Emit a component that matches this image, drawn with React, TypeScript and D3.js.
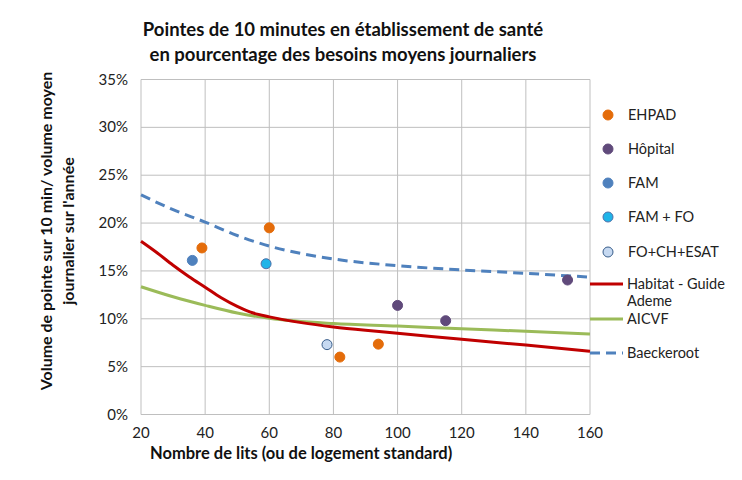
import { useEffect, useRef } from 'react';
import * as d3 from 'd3';

// scatter series: [lits, %]
const ehpad: [number, number][] = [[39, 17.4], [60, 19.5], [82, 6.0], [94, 7.35]];
const hopital: [number, number][] = [[100, 11.4], [115, 9.8], [153, 14.05]];
const fam: [number, number][] = [[36, 16.1]];
const famFo: [number, number][] = [[59, 15.75]];
const foChEsat: [number, number][] = [[78, 7.3]];

// curves
const habitatX = [20, 25, 30, 35, 40, 45, 50, 55, 60, 70, 80, 90, 100, 120, 140, 160];
const habitatY = [18.1, 16.9, 15.6, 14.4, 13.3, 12.2, 11.3, 10.6, 10.2, 9.6, 9.15, 8.8, 8.5, 7.85, 7.25, 6.6];
const aicvfX = [20, 30, 40, 50, 60, 80, 100, 120, 140, 160];
const aicvfY = [13.35, 12.3, 11.4, 10.6, 10.05, 9.5, 9.25, 8.95, 8.7, 8.4];
const baeckX = [20, 30, 40, 50, 60, 80, 100, 120, 140, 160];
const baeckY = [22.95, 21.4, 20.1, 18.7, 17.6, 16.25, 15.55, 15.1, 14.75, 14.35];

const xTicks = [20, 40, 60, 80, 100, 120, 140, 160];
const yTicks = [0, 5, 10, 15, 20, 25, 30, 35];

const FONT = 'Lato, "Open Sans", sans-serif';

const App = () => {
  const svgRef = useRef<SVGSVGElement>(null);

  useEffect(() => {
    const svg = d3.select(svgRef.current);
    svg.selectAll('*').remove();

    const x = d3.scaleLinear().domain([20, 160]).range([141, 590]);
    const y = d3.scaleLinear().domain([0, 35]).range([414.5, 79.5]);

    svg.append('rect').attr('width', 742).attr('height', 480).attr('fill', '#fff');

    // grid
    const grid = svg.append('g').attr('stroke', '#BFBFBF').attr('stroke-width', 1);
    xTicks.forEach(t => {
      grid.append('line').attr('x1', x(t)).attr('x2', x(t)).attr('y1', y(0)).attr('y2', y(35));
    });
    yTicks.forEach(t => {
      grid.append('line').attr('x1', x(20)).attr('x2', x(160)).attr('y1', y(t)).attr('y2', y(t));
    });

    // tick labels
    svg.append('g').selectAll('text').data(xTicks).enter().append('text')
      .attr('x', d => x(d)).attr('y', 438)
      .attr('text-anchor', 'middle')
      .style('font-family', FONT).style('font-size', '15px').style('fill', '#222')
      .text(d => d);
    svg.append('g').selectAll('text').data(yTicks).enter().append('text')
      .attr('x', 128).attr('y', d => y(d) + 5)
      .attr('text-anchor', 'end')
      .style('font-family', FONT).style('font-size', '15px').style('fill', '#222')
      .text(d => d + '%');

    // curves
    const line = d3.line<[number, number]>()
      .x(d => x(d[0])).y(d => y(d[1]))
      .curve(d3.curveMonotoneX);
    const zip = (xs: number[], ys: number[]) => xs.map((v, i) => [v, ys[i]] as [number, number]);

    svg.append('path').datum(zip(aicvfX, aicvfY))
      .attr('d', line).attr('fill', 'none').attr('stroke', '#9BBB59').attr('stroke-width', 3);
    svg.append('path').datum(zip(habitatX, habitatY))
      .attr('d', line).attr('fill', 'none').attr('stroke', '#C00000').attr('stroke-width', 3);
    svg.append('path').datum(zip(baeckX, baeckY))
      .attr('d', line).attr('fill', 'none').attr('stroke', '#4F81BD').attr('stroke-width', 3)
      .attr('stroke-dasharray', '10 6');

    // points
    const series = [
      { data: ehpad, fill: '#E46C0A', stroke: '#E46C0A', label: 'EHPAD' },
      { data: hopital, fill: '#604A7B', stroke: '#604A7B', label: 'Hôpital' },
      { data: fam, fill: '#4F81BD', stroke: '#4F81BD', label: 'FAM' },
      { data: famFo, fill: '#1FB4E8', stroke: '#4F6FA8', label: 'FAM + FO' },
      { data: foChEsat, fill: '#C6D9F1', stroke: '#385D8A', label: 'FO+CH+ESAT' },
    ];
    series.forEach(s => {
      svg.append('g').selectAll('circle').data(s.data).enter().append('circle')
        .attr('cx', d => x(d[0])).attr('cy', d => y(d[1])).attr('r', 5)
        .attr('fill', s.fill).attr('stroke', s.stroke).attr('stroke-width', 1);
    });

    // legend
    const lg = svg.append('g').style('font-family', FONT).style('font-size', '14.5px').style('fill', '#222');
    const legendY = [115, 149, 183, 217, 252];
    series.forEach((s, i) => {
      lg.append('circle').attr('cx', 608).attr('cy', legendY[i]).attr('r', 5)
        .attr('fill', s.fill).attr('stroke', s.stroke).attr('stroke-width', 1);
      lg.append('text').attr('x', 628).attr('y', legendY[i] + 5).text(s.label);
    });
    const lines = [
      { y: 284, color: '#C00000', dash: null, labels: ['Habitat - Guide', 'Ademe'] },
      { y: 319, color: '#9BBB59', dash: null, labels: ['AICVF'] },
      { y: 353, color: '#4F81BD', dash: '10 6', labels: ['Baeckeroot'] },
    ];
    lines.forEach(l => {
      lg.append('line').attr('x1', 590).attr('x2', 623).attr('y1', l.y).attr('y2', l.y)
        .attr('stroke', l.color).attr('stroke-width', 3)
        .attr('stroke-dasharray', l.dash);
      l.labels.forEach((t, j) => {
        lg.append('text').attr('x', 627).attr('y', l.y + 5 + j * 16.5).text(t);
      });
    });

    // titles
    const title = svg.append('g').style('font-family', FONT).style('font-weight', 'bold')
      .style('font-size', '18.5px').style('fill', '#111').attr('text-anchor', 'middle');
    title.append('text').attr('x', 343).attr('y', 36).text('Pointes de 10 minutes en établissement  de santé');
    title.append('text').attr('x', 343).attr('y', 61).text('en pourcentage des besoins moyens journaliers');

    svg.append('text').attr('x', 150).attr('y', 459)
      .style('font-family', FONT).style('font-weight', 'bold').style('font-size', '16.5px').style('fill', '#111')
      .text('Nombre de lits (ou de logement standard)');

    const yt = svg.append('g').attr('transform', 'translate(0,231) rotate(-90)')
      .style('font-family', FONT).style('font-weight', 'bold').style('font-size', '16px').style('fill', '#111')
      .attr('text-anchor', 'middle');
    yt.append('text').attr('x', 0).attr('y', 52).text('Volume de pointe sur 10 min/ volume moyen');
    yt.append('text').attr('x', 0).attr('y', 74).text("journalier sur l'année");
  }, []);

  return (
    <svg ref={svgRef} width={742} height={480}
      style={{ position: 'absolute', left: 0, top: 0, display: 'block' }} />
  );
};

export default App;
